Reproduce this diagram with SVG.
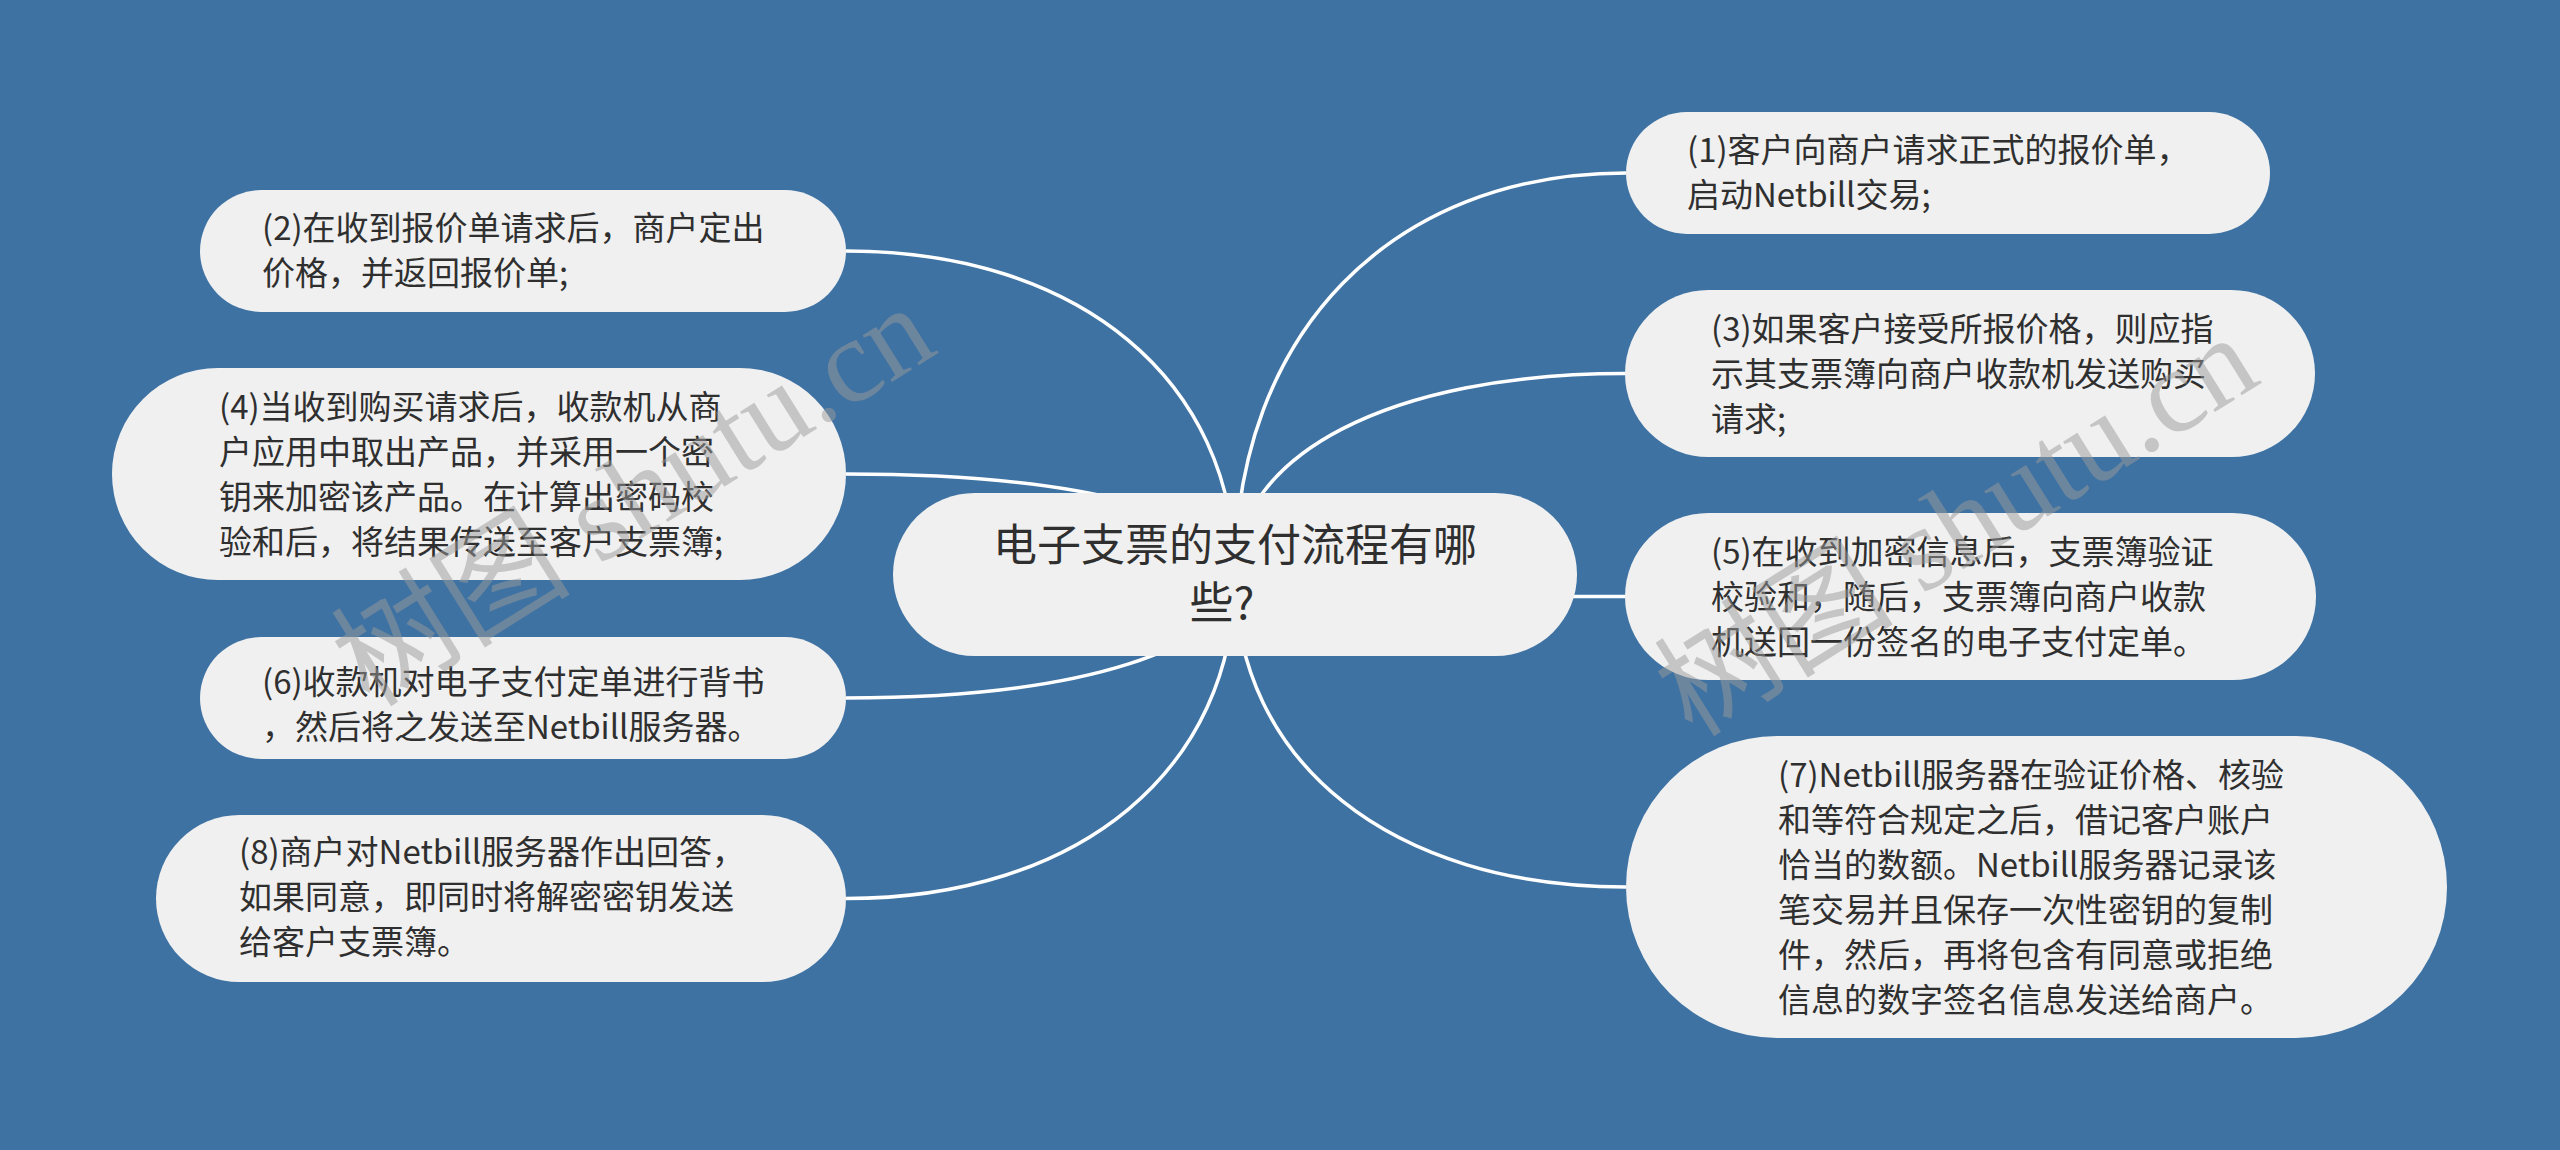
<svg xmlns="http://www.w3.org/2000/svg" width="2560" height="1150" viewBox="0 0 2560 1150">
<style>
.bg{fill:#3E72A3}
.node{fill:#F0F0F0}
.t{font-family:"Noto Sans CJK SC","Noto Sans",sans-serif;font-size:33px;fill:#2f2f2f}
.title{font-family:"Noto Sans CJK SC","Noto Sans",sans-serif;font-size:44px;fill:#2f2f2f}
.edge{fill:none;stroke:#FFFFFF;stroke-width:3.5}
.wm{font-family:"Liberation Serif","Noto Sans CJK SC",serif;font-size:120px;fill:#999999;fill-opacity:0.5}
</style>
<rect class="bg" x="0" y="0" width="2560" height="1150"/>
<g id="connectors">
<path class="edge" d="M1235,575 C1235,333.8 1391.4,173 1626,173"/>
<path class="edge" d="M1235,575 C1235,454.1 1391,373.5 1625,373.5"/>
<path class="edge" d="M1235,575 C1235,587.9 1391,596.5 1625,596.5"/>
<path class="edge" d="M1235,575 C1235,762.2 1391.4,887 1626,887"/>
<path class="edge" d="M1235,575 C1235,380.6 1079.4,251 846,251"/>
<path class="edge" d="M1235,575 C1235,514.4 1079.4,474 846,474"/>
<path class="edge" d="M1235,575 C1235,648.8 1079.4,698 846,698"/>
<path class="edge" d="M1235,575 C1235,769.1 1079.4,898.5 846,898.5"/>
</g>
<g id="center">
<rect class="node" x="893" y="493" width="684" height="163" rx="81.5"/>
<text class="title" text-anchor="middle"><tspan x="1235" y="561">电子支票的支付流程有哪</tspan><tspan x="1222" y="619">些?</tspan></text>
</g>
<g id="n1">
<rect class="node" x="1626" y="112" width="644" height="122" rx="61"/>
<text class="t"><tspan x="1687" y="162">(1)客户向商户请求正式的报价单，</tspan><tspan x="1687" y="207">启动Netbill交易;</tspan></text>
</g>
<g id="n2">
<rect class="node" x="200" y="190" width="646" height="122" rx="61"/>
<text class="t"><tspan x="262" y="240">(2)在收到报价单请求后，商户定出</tspan><tspan x="262" y="285">价格，并返回报价单;</tspan></text>
</g>
<g id="n3">
<rect class="node" x="1625" y="290" width="690" height="167" rx="83.5"/>
<text class="t"><tspan x="1711" y="341">(3)如果客户接受所报价格，则应指</tspan><tspan x="1711" y="386">示其支票簿向商户收款机发送购买</tspan><tspan x="1711" y="431">请求;</tspan></text>
</g>
<g id="n4">
<rect class="node" x="112" y="368" width="734" height="212" rx="106"/>
<text class="t"><tspan x="219" y="419">(4)当收到购买请求后，收款机从商</tspan><tspan x="219" y="464">户应用中取出产品，并采用一个密</tspan><tspan x="219" y="509">钥来加密该产品。在计算出密码校</tspan><tspan x="219" y="554">验和后，将结果传送至客户支票簿;</tspan></text>
</g>
<g id="n5">
<rect class="node" x="1625" y="513" width="691" height="167" rx="83.5"/>
<text class="t"><tspan x="1711" y="564">(5)在收到加密信息后，支票簿验证</tspan><tspan x="1711" y="609">校验和，随后，支票簿向商户收款</tspan><tspan x="1711" y="654">机送回一份签名的电子支付定单。</tspan></text>
</g>
<g id="n6">
<rect class="node" x="200" y="637" width="646" height="122" rx="61"/>
<text class="t"><tspan x="262" y="694">(6)收款机对电子支付定单进行背书</tspan><tspan x="262" y="739">，然后将之发送至Netbill服务器。</tspan></text>
</g>
<g id="n7">
<rect class="node" x="1626" y="736" width="821" height="302" rx="151"/>
<text class="t"><tspan x="1778" y="787">(7)Netbill服务器在验证价格、核验</tspan><tspan x="1778" y="832">和等符合规定之后，借记客户账户</tspan><tspan x="1778" y="877">恰当的数额。Netbill服务器记录该</tspan><tspan x="1778" y="922">笔交易并且保存一次性密钥的复制</tspan><tspan x="1778" y="967">件，然后，再将包含有同意或拒绝</tspan><tspan x="1778" y="1012">信息的数字签名信息发送给商户。</tspan></text>
</g>
<g id="n8">
<rect class="node" x="156" y="815" width="690" height="167" rx="83.5"/>
<text class="t"><tspan x="239" y="864">(8)商户对Netbill服务器作出回答，</tspan><tspan x="239" y="909">如果同意，即同时将解密密钥发送</tspan><tspan x="239" y="954">给客户支票簿。</tspan></text>
</g>
<g id="watermarks">
<text class="wm" text-anchor="middle" transform="translate(655,530) rotate(-32)">树图 shutu.cn</text>
<text class="wm" text-anchor="middle" transform="translate(1978,560) rotate(-32)">树图 shutu.cn</text>
</g>
</svg>
